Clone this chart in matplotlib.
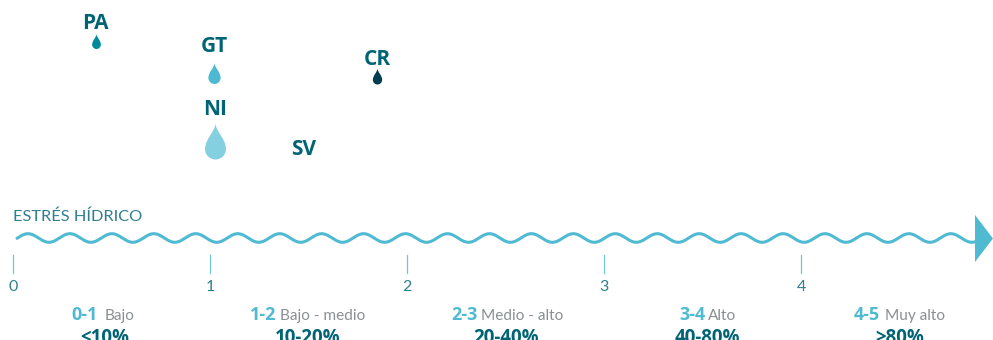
import numpy as np
import matplotlib
matplotlib.use("Agg")
import matplotlib.pyplot as plt
from matplotlib.path import Path

W, H = 993, 340
countries = ["PA", "GT", "NI", "CR", "SV"]
stress = [0.42, 1.02, 1.025, 1.85, 1.475]
label_y = [23.5, 46.5, 109.5, 59.5, 149.5]
drop_y = [41, 73, 141, 76, None]
drop_height = [15, 21, 36, 16, 0]
drop_color = ["#008A9C", "#4DB9D3", "#84D0E0", "#003D50", "#FFFFFF"]
ticks = [0, 1, 2, 3, 4]
ranges = ["0-1", "1-2", "2-3", "3-4", "4-5"]
range_names = ["Bajo", "Bajo - medio", "Medio - alto", "Alto", "Muy alto"]
percents = ["<10%", "10-20%", "20-40%", "40-80%", ">80%"]

DARK = "#006475"; BLUE = "#4FBAD2"; GREY = "#8a9092"; MID = "#2f7f8e"
px_per_unit = 197.0
x0_px = 13.0

fig = plt.figure(figsize=(W/100, H/100), dpi=100)
ax = fig.add_axes([0, 0, 1, 1])
ax.set_xlim(-x0_px/px_per_unit, (W-x0_px)/px_per_unit)
ax.set_ylim(H, 0)
ax.axis("off")
def X(px): return (px-x0_px)/px_per_unit

r = 0.29
k = 0.5523*r
cy = -0.5 + r
drop = Path(
    [(0, 0.5), (0.02, 0.25), (r, 0.08), (r, cy),
     (r, cy-k), (k, -0.5), (0, -0.5),
     (-k, -0.5), (-r, cy-k), (-r, cy),
     (-r, 0.08), (-0.02, 0.25), (0, 0.5), (0, 0.5)],
    [Path.MOVETO, Path.CURVE4, Path.CURVE4, Path.CURVE4,
     Path.CURVE4, Path.CURVE4, Path.CURVE4,
     Path.CURVE4, Path.CURVE4, Path.CURVE4,
     Path.CURVE4, Path.CURVE4, Path.CURVE4, Path.CLOSEPOLY])

for c, x, ly, dy, h, col in zip(countries, stress, label_y, drop_y, drop_height, drop_color):
    ax.text(x, ly, c, ha="center", va="center", fontsize=15, fontweight="bold",
            family="Open Sans", color=DARK)
    if dy is not None:
        ax.scatter([x], [dy], s=(h*0.72)**2, marker=drop, color=col, linewidths=0, zorder=3)

ax.text(X(13), 217, "ESTRÉS HÍDRICO", ha="left", va="center", fontsize=11.8,
        family="Lato", color=MID)

wx = np.linspace(17, 976, 1500)
wy = 238 - 4.3*np.cos(2*np.pi*(wx-28)/41.95)
ax.plot(X(wx), wy, color=BLUE, lw=2.2, solid_capstyle="round", zorder=2)
ax.fill([X(975), X(993), X(975)], [215, 238.5, 262], color=BLUE, lw=0, zorder=3)

for t in ticks:
    ax.plot([t, t], [255, 273], color="#6CC7DB", lw=0.9)
    ax.text(t, 287, str(t), ha="center", va="center", fontsize=11.5,
            family="Lato", color=MID)

range_left = [71, 250, 451, 679, 854]
name_left = [105, 280, 481, 708, 885]
pct_center = [105, 308, 506, 707, 900]
for i in range(5):
    ax.text(X(range_left[i]), 315.5, ranges[i], ha="left", va="center", fontsize=13,
            family="Open Sans", fontweight="bold", color=BLUE)
    ax.text(X(name_left[i]), 316, range_names[i], ha="left", va="center", fontsize=11.1,
            family="Lato", color=GREY)
    ax.text(X(pct_center[i]), 338, percents[i], ha="center", va="center", fontsize=13.5,
            family="Open Sans", fontweight="bold", color=DARK)

fig.savefig("out.png", dpi=100)
